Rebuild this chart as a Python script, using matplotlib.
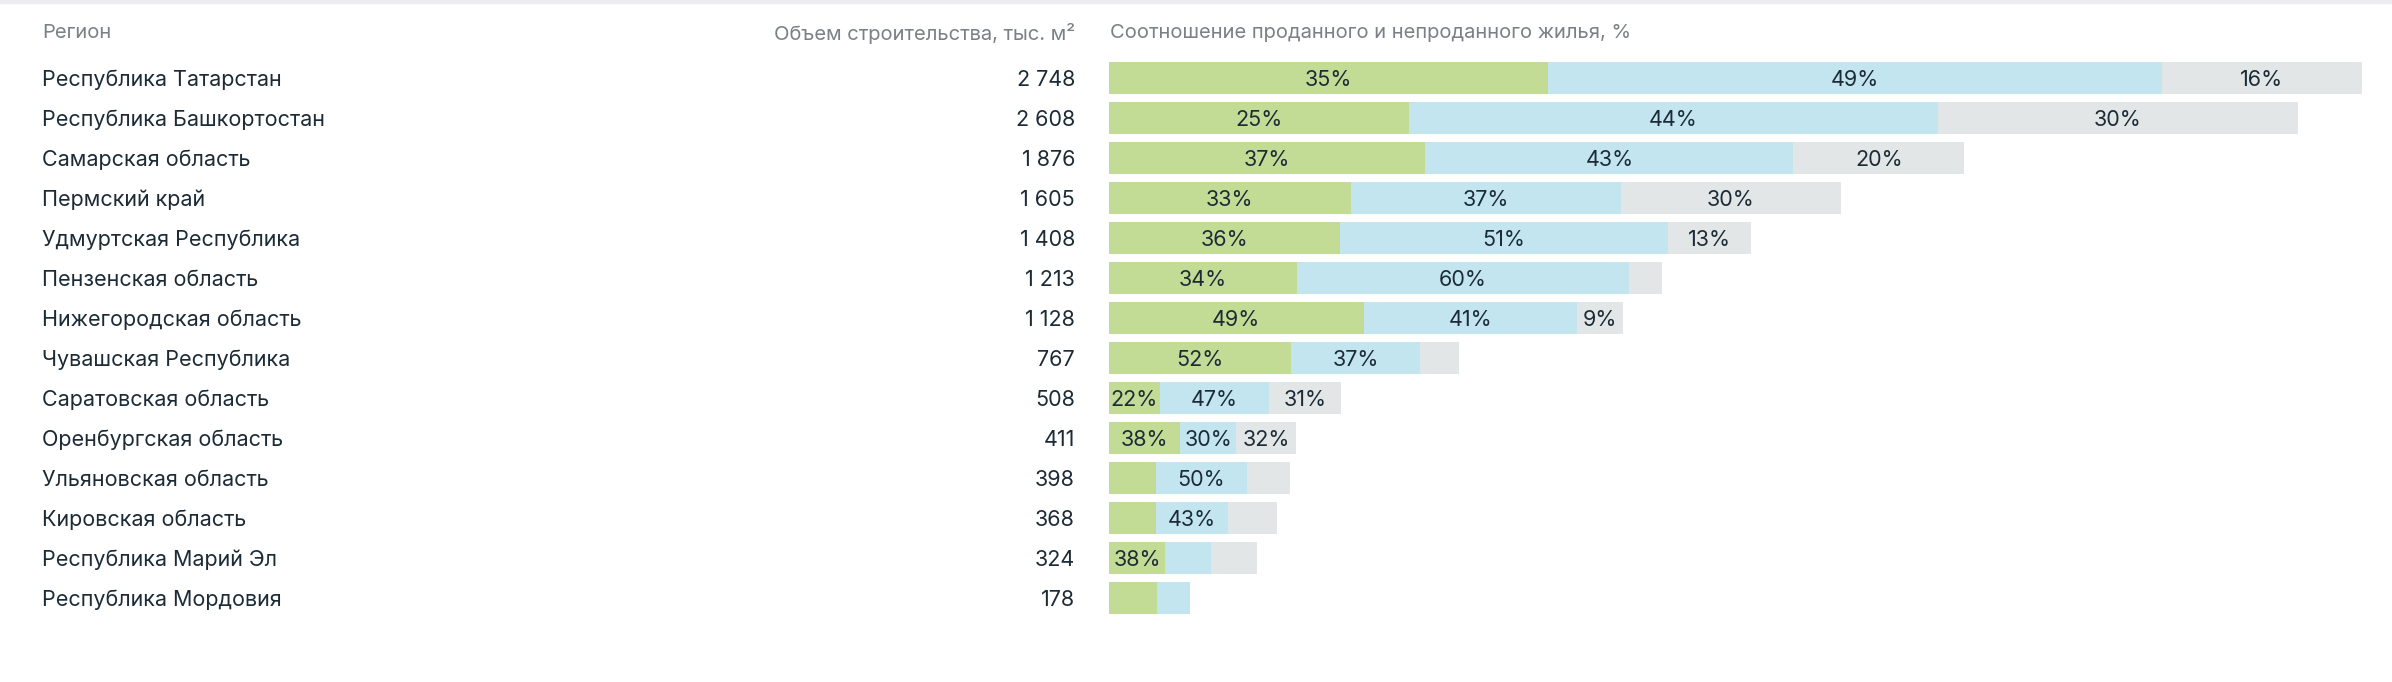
import matplotlib
matplotlib.use("Agg")
import matplotlib.pyplot as plt
import matplotlib.transforms as mtransforms
from matplotlib.patches import Rectangle

plt.rcParams['font.family'] = ['Inter', 'DejaVu Sans']

# Data
regions = [
    "Республика Татарстан", "Республика Башкортостан", "Самарская область",
    "Пермский край", "Удмуртская Республика", "Пензенская область",
    "Нижегородская область", "Чувашская Республика", "Саратовская область",
    "Оренбургская область", "Ульяновская область", "Кировская область",
    "Республика Марий Эл", "Республика Мордовия",
]
volume = [2748, 2608, 1876, 1605, 1408, 1213, 1128, 767, 508, 411, 398, 368, 324, 178]
sold = [35, 25, 37, 33, 36, 34, 49, 52, 22, 38, 26, 28, 38, 59]
unsold = [49, 44, 43, 37, 51, 60, 41, 37, 47, 30, 50, 43, 31, 41]
other = [16, 30, 20, 30, 13, 6, 9, 11, 31, 32, 24, 29, 31, 0]

header_region = "Регион"
header_volume = "Объем строительства, тыс. м²"
header_ratio = "Соотношение проданного и непроданного жилья, %"

colors = ["#c2dc96", "#c2e5f0", "#e2e6e7"]
text_color = "#1c2b36"
head_color = "#7b8084"

W, H = 2392, 682
fig = plt.figure(figsize=(W / 100, H / 100), dpi=100)

# thin stripe on top
fig.patches.append(Rectangle((0, 1 - 3 / H), 1, 3 / H, transform=fig.transFigure,
                             color="#ededf1", zorder=0))

# bar axes: x in thousand m2, rows as categories
ax = fig.add_axes([1109 / W, 64 / H, 1253 / W, 560 / H])
n = len(regions)
ax.set_xlim(0, max(volume))
ax.set_ylim(n - 0.5, -0.5)
ax.axis("off")

rows = list(range(n))
lefts = [0] * n
fig.canvas.draw()
renderer = fig.canvas.get_renderer()
px_per_unit = 1253 / max(volume)

for shares, col in zip([sold, unsold, other], colors):
    widths = [v * s / (a + b + c) for v, s, a, b, c in zip(volume, shares, sold, unsold, other)]
    ax.barh(rows, widths, left=lefts, height=0.8, color=col, linewidth=0)
    for i in rows:
        if shares[i] == 0:
            continue
        t = ax.text(lefts[i] + widths[i] / 2, i, f"{shares[i]}%", ha="center", va="center_baseline",
                    fontsize=15.5, color=text_color)
        tw = t.get_window_extent(renderer).width
        # hide labels that do not fit in the segment
        if widths[i] * px_per_unit - tw < 3.3:
            t.remove()
    lefts = [l + w for l, w in zip(lefts, widths)]

# table columns
trans = mtransforms.blended_transform_factory(fig.transFigure, ax.transData)
for i in rows:
    ax.text(42 / W, i, regions[i], transform=trans, ha="left", va="center_baseline",
            fontsize=15.5, color=text_color)
    ax.text(1075 / W, i, f"{volume[i]:,}".replace(",", " "), transform=trans, ha="right",
            va="center_baseline", fontsize=15.5, color=text_color)

hy = 1 - 31 / H
fig.text(42 / W, hy, header_region, ha="left", va="center_baseline", fontsize=14.5, color=head_color)
fig.text(1075 / W, hy, header_volume, ha="right", va="center_baseline", fontsize=14.5, color=head_color)
fig.text(1110 / W, hy, header_ratio, ha="left", va="center_baseline", fontsize=14.5, color=head_color)

fig.savefig("out.png", dpi=100)
